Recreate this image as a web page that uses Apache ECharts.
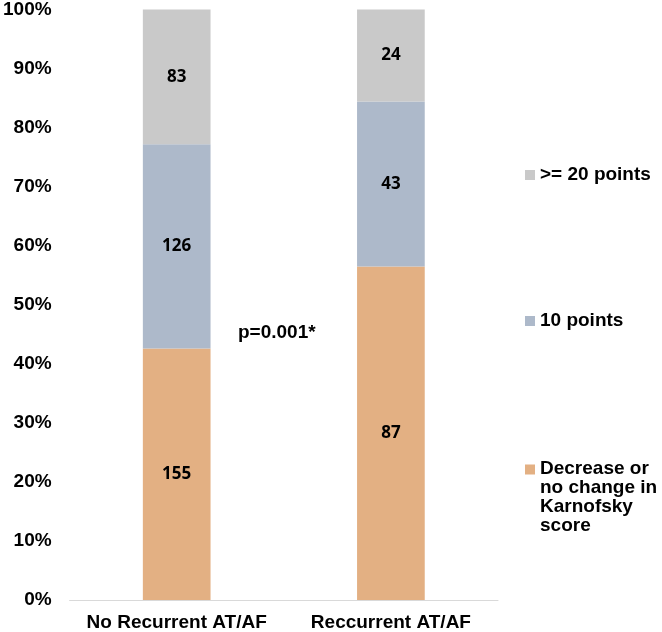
<!DOCTYPE html>
<html>
<head>
<meta charset="utf-8">
<script src="https://cdn.jsdelivr.net/npm/echarts@6/dist/echarts.min.js"></script>
<style>html,body{margin:0;padding:0;background:#fff}#c{width:662px;height:632px}</style>
</head>
<body>
<div id="c"></div>
<script>
var categories = ['No Recurrent AT/AF', 'Reccurrent AT/AF'];
var seriesNames = ['Decrease or\nno change in\nKarnofsky\nscore', '10 points', '>= 20 points'];
var decreaseCounts = [155, 87];
var tenPointCounts = [126, 43];
var twentyPointCounts = [83, 24];
var yTickValues = [0, 0.1, 0.2, 0.3, 0.4, 0.5, 0.6, 0.7, 0.8, 0.9, 1];
var pValueText = 'p=0.001*';

var colors = ['#e3b083', '#adb9ca', '#c9c9c9'];
var countSets = [decreaseCounts, tenPointCounts, twentyPointCounts];
var totals = categories.map(function (_, i) {
  return decreaseCounts[i] + tenPointCounts[i] + twentyPointCounts[i];
});

var chart = echarts.init(document.getElementById('c'), null, {renderer: 'canvas'});
var AR = 'Liberation Sans, Arial, sans-serif';

var series = countSets.map(function (counts, s) {
  return {
    name: seriesNames[s],
    type: 'bar',
    stack: 'total',
    barWidth: '31.6%',
    itemStyle: {color: colors[s]},
    label: {
      show: true,
      position: 'inside',
      fontFamily: 'Open Sans, sans-serif',
      fontWeight: 'bold',
      fontSize: 17,
      color: '#000',
      formatter: function (p) { return counts[p.dataIndex]; }
    },
    emphasis: {disabled: true},
    data: counts.map(function (c, i) { return c / totals[i]; })
  };
});

var legendText = {fontFamily: AR, fontWeight: 'bold', fontSize: 19, color: '#000', lineHeight: 20};

chart.setOption({
  animation: false,
  grid: {left: 66, right: 164, top: 8, bottom: 31},
  xAxis: {
    type: 'category',
    data: categories,
    axisLine: {lineStyle: {color: '#d9d9d9', width: 1}},
    axisTick: {show: false},
    axisLabel: {interval: 0, fontFamily: AR, fontWeight: 'bold', fontSize: 19, color: '#000', margin: 13}
  },
  yAxis: {
    type: 'value',
    min: 0,
    max: 1,
    interval: 0.1,
    axisLine: {show: false},
    axisTick: {show: false},
    splitLine: {show: false},
    axisLabel: {
      fontFamily: AR, fontWeight: 'bold', fontSize: 19, color: '#000', margin: 18,
      formatter: function (v) { return Math.round(v * 100) + '%'; }
    }
  },
  legend: [
    {data: [seriesNames[2]], orient: 'vertical', left: 525, top: 165, padding: 0, icon: 'rect', itemWidth: 10, itemHeight: 10, selectedMode: false, textStyle: legendText},
    {data: [seriesNames[1]], orient: 'vertical', left: 525, top: 311, padding: 0, icon: 'rect', itemWidth: 10, itemHeight: 10, selectedMode: false, textStyle: legendText},
    {data: [seriesNames[0]], orient: 'vertical', left: 525, top: 459, padding: 0,
     icon: 'path://M0,0L0.01,0L0,0Z M0,5L10,5L10,15L0,15Z M0,75L0.01,75L0,75Z',
     itemWidth: 10, itemHeight: 75, selectedMode: false,
     textStyle: {fontFamily: AR, fontWeight: 'bold', fontSize: 19, color: '#000', lineHeight: 19}}
  ],
  graphic: [{
    type: 'text',
    left: 238,
    top: 323,
    style: {text: pValueText, font: 'bold 19px Liberation Sans, Arial, sans-serif', fill: '#000'}
  }],
  series: series
});
</script>
</body>
</html>
